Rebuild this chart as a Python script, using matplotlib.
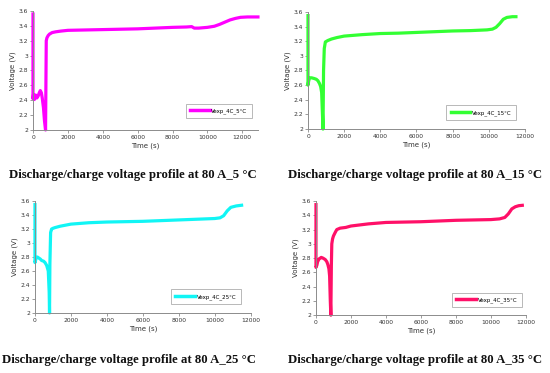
import numpy as np
import matplotlib.pyplot as plt

# time (s) / voltage (V)
t_5 = [0, 0, 30, 80, 150, 220, 300, 360, 420, 480, 530, 600, 660, 720, 740, 760, 800, 870, 950, 1100,
       1300, 1600, 2000, 3000, 4000, 5000, 6000, 7000, 8000, 8800, 9100, 9250, 9500, 10000, 10400,
       10700, 11000, 11300, 11600, 11900, 12300, 12900]
v_5 = [3.56, 2.42, 2.48, 2.41, 2.47, 2.43, 2.46, 2.50, 2.53, 2.50, 2.43, 2.30, 2.12, 2.00, 2.6, 3.20,
       3.24, 3.27, 3.29, 3.31, 3.32, 3.33, 3.34, 3.345, 3.35, 3.355, 3.36, 3.37, 3.38, 3.385, 3.39, 3.37,
       3.37, 3.38, 3.395, 3.42, 3.45, 3.48, 3.50, 3.515, 3.52, 3.52]

t_15 = [0, 0, 40, 90, 200, 350, 460, 550, 640, 700, 755, 800, 830, 860, 900, 960, 1100, 1300, 1600,
        2000, 3000, 4000, 5000, 6000, 7000, 8000, 9000, 9900, 10200, 10400, 10600, 10800, 11000, 11300, 11500]
v_15 = [3.55, 2.60, 2.66, 2.70, 2.70, 2.69, 2.68, 2.66, 2.62, 2.58, 2.50, 2.20, 2.00, 2.8, 3.10, 3.19,
        3.21, 3.23, 3.25, 3.27, 3.29, 3.305, 3.31, 3.32, 3.33, 3.34, 3.345, 3.355, 3.365, 3.39, 3.44,
        3.50, 3.525, 3.535, 3.535]

t_25 = [0, 0, 60, 130, 300, 370, 480, 560, 650, 740, 790, 810, 830, 870, 925, 1000, 1110, 1400, 2000,
        3000, 4000, 5000, 6000, 7000, 8000, 9000, 10000, 10300, 10500, 10700, 10900, 11200, 11500]
v_25 = [3.55, 2.72, 2.78, 2.80, 2.77, 2.75, 2.74, 2.72, 2.68, 2.60, 2.30, 2.00, 2.70, 3.15, 3.20, 3.21,
        3.22, 3.24, 3.27, 3.29, 3.30, 3.305, 3.31, 3.32, 3.33, 3.34, 3.35, 3.36, 3.39, 3.46, 3.51, 3.53, 3.54]

t_35 = [0, 0, 50, 95, 180, 245, 300, 400, 530, 620, 680, 740, 780, 820, 850, 880, 905, 950, 1000,
        1100, 1190, 1380, 1700, 2000, 3000, 4000, 5000, 6000, 7000, 8000, 9000, 10000, 10500, 10800,
        11000, 11200, 11400, 11600, 11800]
v_35 = [3.55, 2.67, 2.70, 2.75, 2.79, 2.80, 2.81, 2.80, 2.78, 2.75, 2.71, 2.65, 2.55, 2.20, 2.00,
        2.70, 3.00, 3.07, 3.11, 3.16, 3.20, 3.22, 3.23, 3.25, 3.28, 3.30, 3.305, 3.31, 3.32, 3.33,
        3.335, 3.34, 3.35, 3.37, 3.42, 3.49, 3.52, 3.535, 3.54]

labels = ['Vexp_4C_5°C', 'Vexp_4C_15°C', 'Vexp_4C_25°C', 'Vexp_4C_35°C']
captions = ['Discharge/charge voltage profile at 80 A_5 °C',
            'Discharge/charge voltage profile at 80 A_15 °C',
            'Discharge/charge voltage profile at 80 A_25 °C',
            'Discharge/charge voltage profile at 80 A_35 °C']
colors = ['#ff00ff', '#33ff33', '#11f5f5', '#ff1068']
series = [(t_5, v_5), (t_15, v_15), (t_25, v_25), (t_35, v_35)]

# axes boxes in figure fraction
boxes = [[0.060, 0.6515, 0.409, 0.319],
         [0.560, 0.654, 0.3945, 0.314],
         [0.0636, 0.161, 0.392, 0.300],
         [0.5745, 0.155, 0.3815, 0.306]]
xmax = [12900, 12000, 12000, 12000]
legpos = [(0.973, 0.10), (0.958, 0.077), (0.954, 0.08), (0.98, 0.07)]
capxy = [(0.242, 0.531), (0.755, 0.531), (0.235, 0.035), (0.755, 0.035)]

fig = plt.figure(figsize=(5.5, 3.73), dpi=100)
for i in range(4):
    ax = fig.add_axes(boxes[i])
    t, v = series[i]
    ax.plot(t, v, color=colors[i], lw=2.3, label=labels[i], solid_joinstyle='round', clip_on=False)
    ax.set_xlim(0, xmax[i])
    ax.set_ylim(2, 3.6)
    ax.set_xticks(np.arange(0, 12001, 2000))
    ax.set_yticks([2, 2.2, 2.4, 2.6, 2.8, 3, 3.2, 3.4, 3.6])
    ax.set_yticklabels(['2', '2.2', '2.4', '2.6', '2.8', '3', '3.2', '3.4', '3.6'])
    for s in ['top', 'right']:
        ax.spines[s].set_visible(False)
    for s in ['left', 'bottom']:
        ax.spines[s].set_color('#8c8c8c')
        ax.spines[s].set_linewidth(0.7)
    ax.tick_params(labelsize=4.3, colors='#8c8c8c', labelcolor='#333333', length=2, width=0.6, pad=1.5)
    ax.set_xlabel('Time (s)', fontsize=5, color='#333333', labelpad=2)
    ax.set_ylabel('Voltage (V)', fontsize=5, color='#333333', labelpad=2)
    leg = ax.legend(loc='lower right', bbox_to_anchor=legpos[i], fontsize=4, frameon=True,
                    fancybox=False, handlelength=3.5, borderpad=0.8, handletextpad=0.3,
                    borderaxespad=0)
    leg.get_frame().set_edgecolor('#999999')
    leg.get_frame().set_linewidth(0.6)
    for h in leg.get_lines():
        h.set_linewidth(2.5)
    fig.text(capxy[i][0], capxy[i][1], captions[i], ha='center', va='center',
             fontsize=9.2, family='Liberation Serif', weight='bold', color='#111111')

plt.savefig('out.png', dpi=100)
